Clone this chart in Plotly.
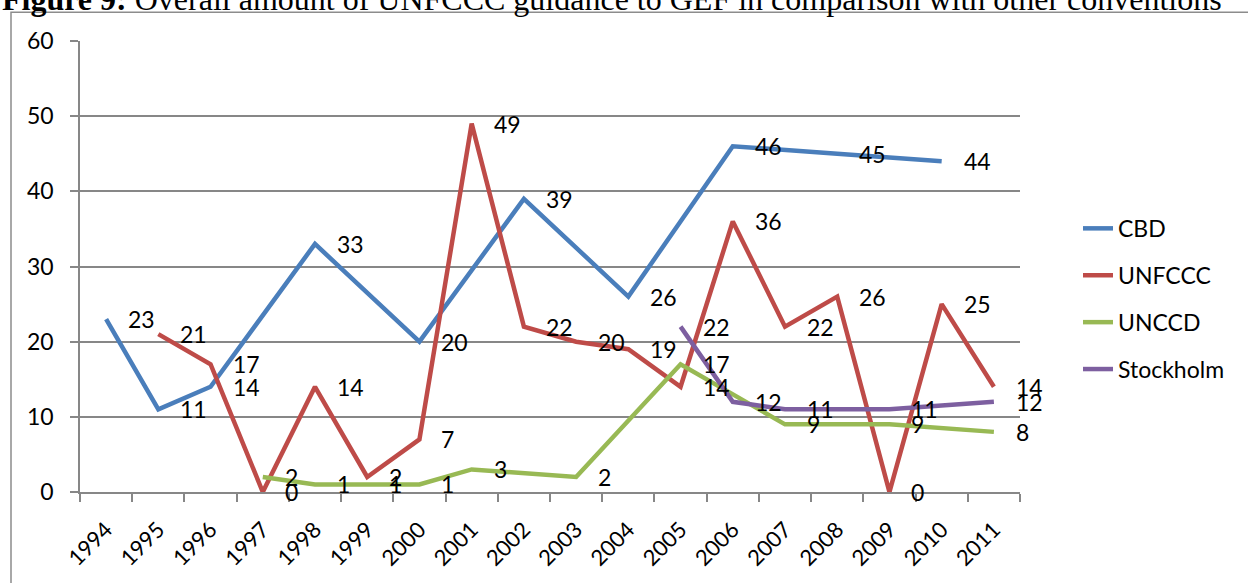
import plotly.graph_objects as go

years = [str(y) for y in range(1994, 2012)]
cbd = [23, 11, 14, None, 33, None, 20, None, 39, None, 26, None, 46, None, 45, None, 44, None]
unfccc = [None, 21, 17, 0, 14, 2, 7, 49, 22, 20, 19, 14, 36, 22, 26, 0, 25, 14]
unccd = [None, None, None, 2, 1, 1, 1, 3, None, 2, None, 17, None, 9, None, 9, None, 8]
stockholm = [None, None, None, None, None, None, None, None, None, None, None, 22, 12, 11, None, 11, None, 12]

series = [
    ("CBD", cbd, "#4A7EBB"),
    ("UNFCCC", unfccc, "#BE4B48"),
    ("UNCCD", unccd, "#98B954"),
    ("Stockholm", stockholm, "#7D5FA0"),
]

FONT = "Lato"
W, H = 1248, 583
L, R, T, B = 80, 228, 41, 88
pw, ph = W - L - R, H - T - B

fig = go.Figure()
annotations = []
for i, (name, vals, col) in enumerate(series):
    fig.add_trace(go.Scatter(
        x=years, y=vals, name=name, mode="lines", connectgaps=True,
        line=dict(color=col, width=4.5), cliponaxis=False,
        legendgroup=f"g{i}", hoverinfo="skip",
    ))
    for k, v in enumerate(vals):
        if v is None:
            continue
        annotations.append(dict(
            x=k, y=v, xref="x", yref="y", text=str(v), showarrow=False,
            xanchor="left", yanchor="middle", xshift=20,
            font=dict(family=FONT, size=23, color="black"),
        ))

def px_x(p):
    return (p - L) / pw

def px_y(p):
    return (H - B - p) / ph

annotations.append(dict(
    xref="paper", yref="paper", x=px_x(0), y=1, xanchor="left", yanchor="bottom",
    yshift=22, showarrow=False,
    text="<b>Figure 9:</b> Overall amount of UNFCCC guidance to GEF in comparison with other conventions",
    font=dict(family="Liberation Serif", size=32, color="black"),
))

grid = "#878787"
fig.update_layout(
    width=W, height=H,
    margin=dict(l=L, r=R, t=T, b=B, pad=0),
    paper_bgcolor="white", plot_bgcolor="white",
    showlegend=True,
    legend=dict(
        x=px_x(1078), y=px_y(208), xanchor="left", yanchor="top",
        font=dict(family=FONT, size=23, color="black"),
        tracegroupgap=14, traceorder="grouped", bgcolor="rgba(0,0,0,0)",
    ),
    xaxis=dict(
        type="category", range=[-0.5, 17.5], tickangle=-45,
        tickson="boundaries", ticks="outside", ticklen=8, tickwidth=1.5,
        tickcolor=grid, showline=True, linecolor=grid, linewidth=2,
        showgrid=False, zeroline=False, ticklabelstandoff=14,
        tickfont=dict(family=FONT, size=22, color="black"),
    ),
    yaxis=dict(
        range=[0, 60], dtick=10, ticks="outside", ticklen=8, tickwidth=1.5,
        tickcolor=grid, showline=True, linecolor=grid, linewidth=1.5,
        showgrid=True, gridcolor=grid, gridwidth=1.5, zeroline=False,
        ticklabelstandoff=12,
        tickfont=dict(family=FONT, size=23, color="black"),
    ),
    annotations=annotations,
    shapes=[dict(
        type="rect", xref="paper", yref="paper",
        x0=px_x(11), x1=px_x(1265), y0=px_y(600), y1=px_y(12),
        line=dict(color="#8c8c8c", width=1.5), fillcolor="rgba(0,0,0,0)", layer="below",
    )],
)

fig.write_html("out.html")
